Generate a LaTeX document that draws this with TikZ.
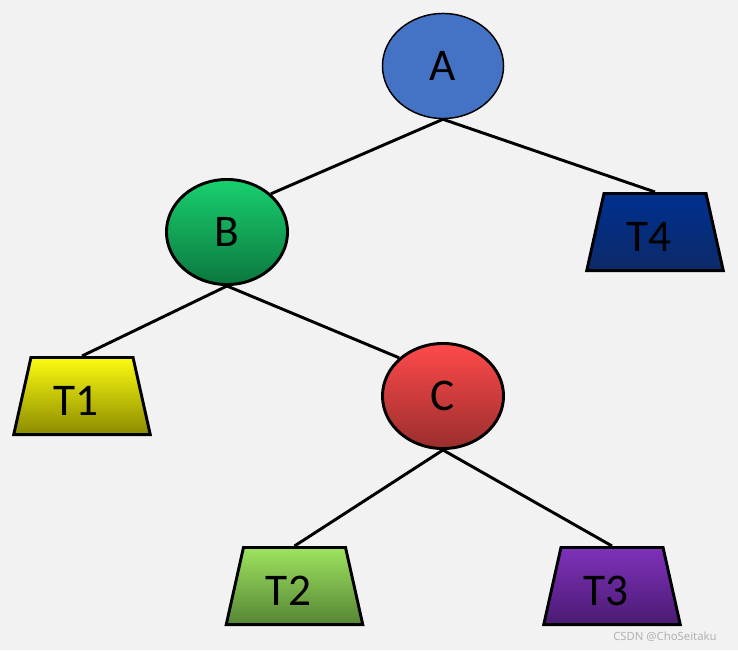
\documentclass[tikz,border=0pt]{standalone}
\usepackage{fontspec}
\setmainfont{Carlito}
\newfontfamily\wmfont{Noto Sans}
\usetikzlibrary{shapes.geometric}

\definecolor{bgGray}{HTML}{F2F2F2}
\definecolor{aBlue}{HTML}{4472C4}
\definecolor{bTop}{HTML}{19D06F}
\definecolor{bBot}{HTML}{0B773E}
\definecolor{cTop}{HTML}{FF4A4A}
\definecolor{cBot}{HTML}{9A2E2E}
\definecolor{oneTop}{HTML}{FCFC12}
\definecolor{oneBot}{HTML}{8A8A00}
\definecolor{twoTop}{HTML}{9DE35F}
\definecolor{twoBot}{HTML}{568535}
\definecolor{threeTop}{HTML}{7F31BA}
\definecolor{threeBot}{HTML}{4A1B72}
\definecolor{fourTop}{HTML}{00308F}
\definecolor{fourBot}{HTML}{0C2A68}

\begin{document}
\begin{tikzpicture}[
        x=0.75pt, y=-0.75pt,
        vertex/.style={ellipse, draw, line width=2.2pt, minimum width=90.8pt, minimum height=78.8pt, inner sep=0pt, font=\fontsize{34}{40}\selectfont},
        leaf/.style={trapezium, trapezium angle=76, trapezium stretches=true, draw, line width=2.2pt, minimum width=102.8pt, minimum height=57.8pt, inner sep=0pt, font=\fontsize{34}{40}\selectfont, text height=29pt, text depth=0pt, execute at end node={\hspace*{9pt}}},
        branch/.style={line width=2.2pt}
    ]
    % Background
    \fill[bgGray] (0,0) rectangle (738,650);

    % Nodes
    \node[vertex, fill=aBlue, line width=1.1pt] (A) at (443,66) {A};
    \node[vertex, top color=bTop, bottom color=bBot] (B) at (227,232) {B};
    \node[vertex, top color=cTop, bottom color=cBot] (C) at (443,396) {C};
    \node[leaf, top color=oneTop, bottom color=oneBot] (T1) at (82,396) {T1};
    \node[leaf, top color=twoTop, bottom color=twoBot] (T2) at (294.5,586) {T2};
    \node[leaf, top color=threeTop, bottom color=threeBot] (T3) at (612,586) {T3};
    \node[leaf, top color=fourTop, bottom color=fourBot] (T4) at (655,232) {T4};

    % Branches
    \draw[branch] (A.south) -- (B.north east);
    \draw[branch] (A.south) -- (T4.north);
    \draw[branch] (B.south) -- (T1.north);
    \draw[branch] (B.south) -- (C.north west);
    \draw[branch] (C.south) -- (T2.north);
    \draw[branch] (C.south) -- (T3.north);

    % Watermark
    \node[font=\wmfont\fontsize{8.5}{10}\selectfont, text=black!30, inner sep=0pt] (wm) at (665,637) {CSDN @ChoSeitaku};
\end{tikzpicture}
\end{document}
